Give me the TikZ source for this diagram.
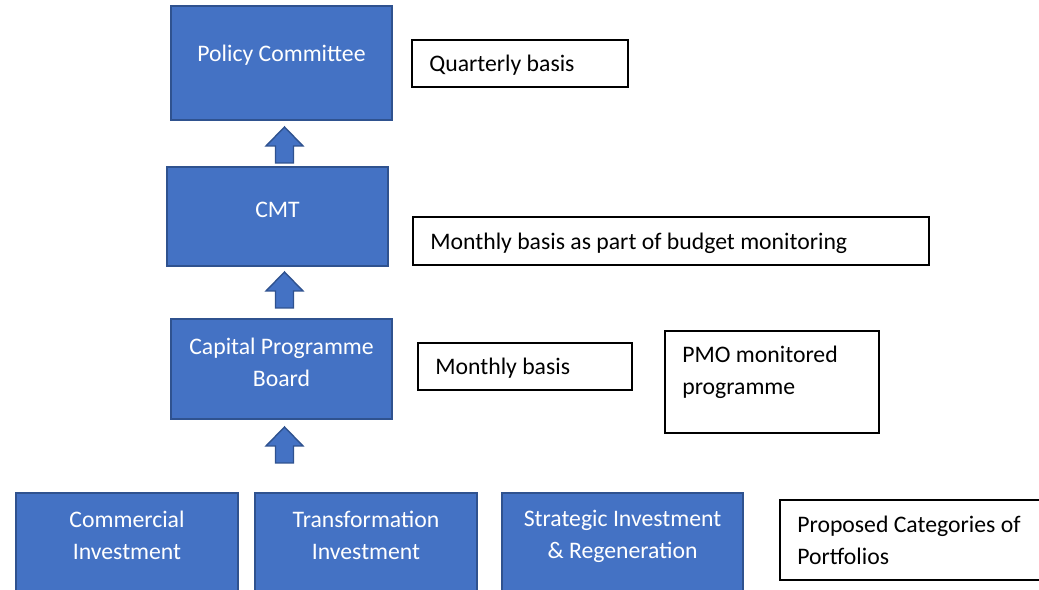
\documentclass[tikz,border=0pt]{standalone}
\usepackage{fontspec}
\setmainfont{Carlito}
\usetikzlibrary{positioning}
\usetikzlibrary{fit}

\definecolor{boxblue}{HTML}{4472C4}
\definecolor{boxedge}{HTML}{2F528F}

\begin{document}
\begin{tikzpicture}[x=0.02cm,y=-0.02cm,
  bluebox/.style={draw=boxedge, fill=boxblue, line width=0.8pt, inner sep=0pt},
  notebox/.style={draw=black, line width=0.6pt, inner sep=0pt},
  bluetext/.style={text=white, align=center, inner sep=0pt, font=\fontsize{13.5}{18.2}\selectfont},
  notetext/.style={text=black, align=left, anchor=west, inner sep=0pt, font=\fontsize{13.5}{18.2}\selectfont},
  uparrow/.pic={\filldraw[draw=boxedge, fill=boxblue, line width=0.8pt, line join=miter]
    (-9,0) -- (9,0) -- (9,-17) -- (18.5,-17) -- (0,-36) -- (-18.5,-17) -- (-9,-17) -- cycle;}]
\useasboundingbox (0,0) rectangle (1039,590);
%committee levels
\node[bluebox, fit={(171,6) (392,120)}] (pc) {};
\node[bluetext] (pc-t) at (281.5,55) {Policy Committee};
\node[bluebox, fit={(167,167) (388,266)}] (cmt) {};
\node[bluetext] (cmt-t) at (277.5,210) {CMT};
\node[bluebox, fit={(171,319) (392,419)}] (cpb) {};
\node[bluetext] (cpb-t) at (281.5,362) {Capital Programme\\Board};
%arrows
\pic at (284.5,163) {uparrow};
\pic at (284.5,308) {uparrow};
\pic at (284.5,463) {uparrow};
%portfolios
\node[bluebox, fit={(16,493) (238,596)}] (ci) {};
\node[bluetext] (ci-t) at (127,535) {Commercial\\Investment};
\node[bluebox, fit={(255,493) (477,596)}] (ti) {};
\node[bluetext] (ti-t) at (366,535) {Transformation\\Investment};
\node[bluebox, fit={(502,493) (743,596)}] (sir) {};
\node[bluetext] (sir-t) at (622.5,536) {Strategic Investment\\\& Regeneration};
%notes
\node[notebox, fit={(412,40) (628,87)}] (qb) {};
\node[notetext] (qb-t) at (429,65) {Quarterly basis};
\node[notebox, fit={(413,217) (929,265)}] (mbb) {};
\node[notetext] (mbb-t) at (430,243) {Monthly basis as part of budget monitoring};
\node[notebox, fit={(418,343) (632,390)}] (mb) {};
\node[notetext] (mb-t) at (435,368) {Monthly basis};
\node[notebox, fit={(665,331) (879,433)}] (pmo) {};
\node[notetext] (pmo-t) at (682,372) {PMO monitored\\programme};
\node[notebox, fit={(780,500) (1042,580)}] (pcp) {};
\node[notetext] (pcp-t) at (797,540.5) {Proposed Categories of\\Portfolios};
\end{tikzpicture}
\end{document}
